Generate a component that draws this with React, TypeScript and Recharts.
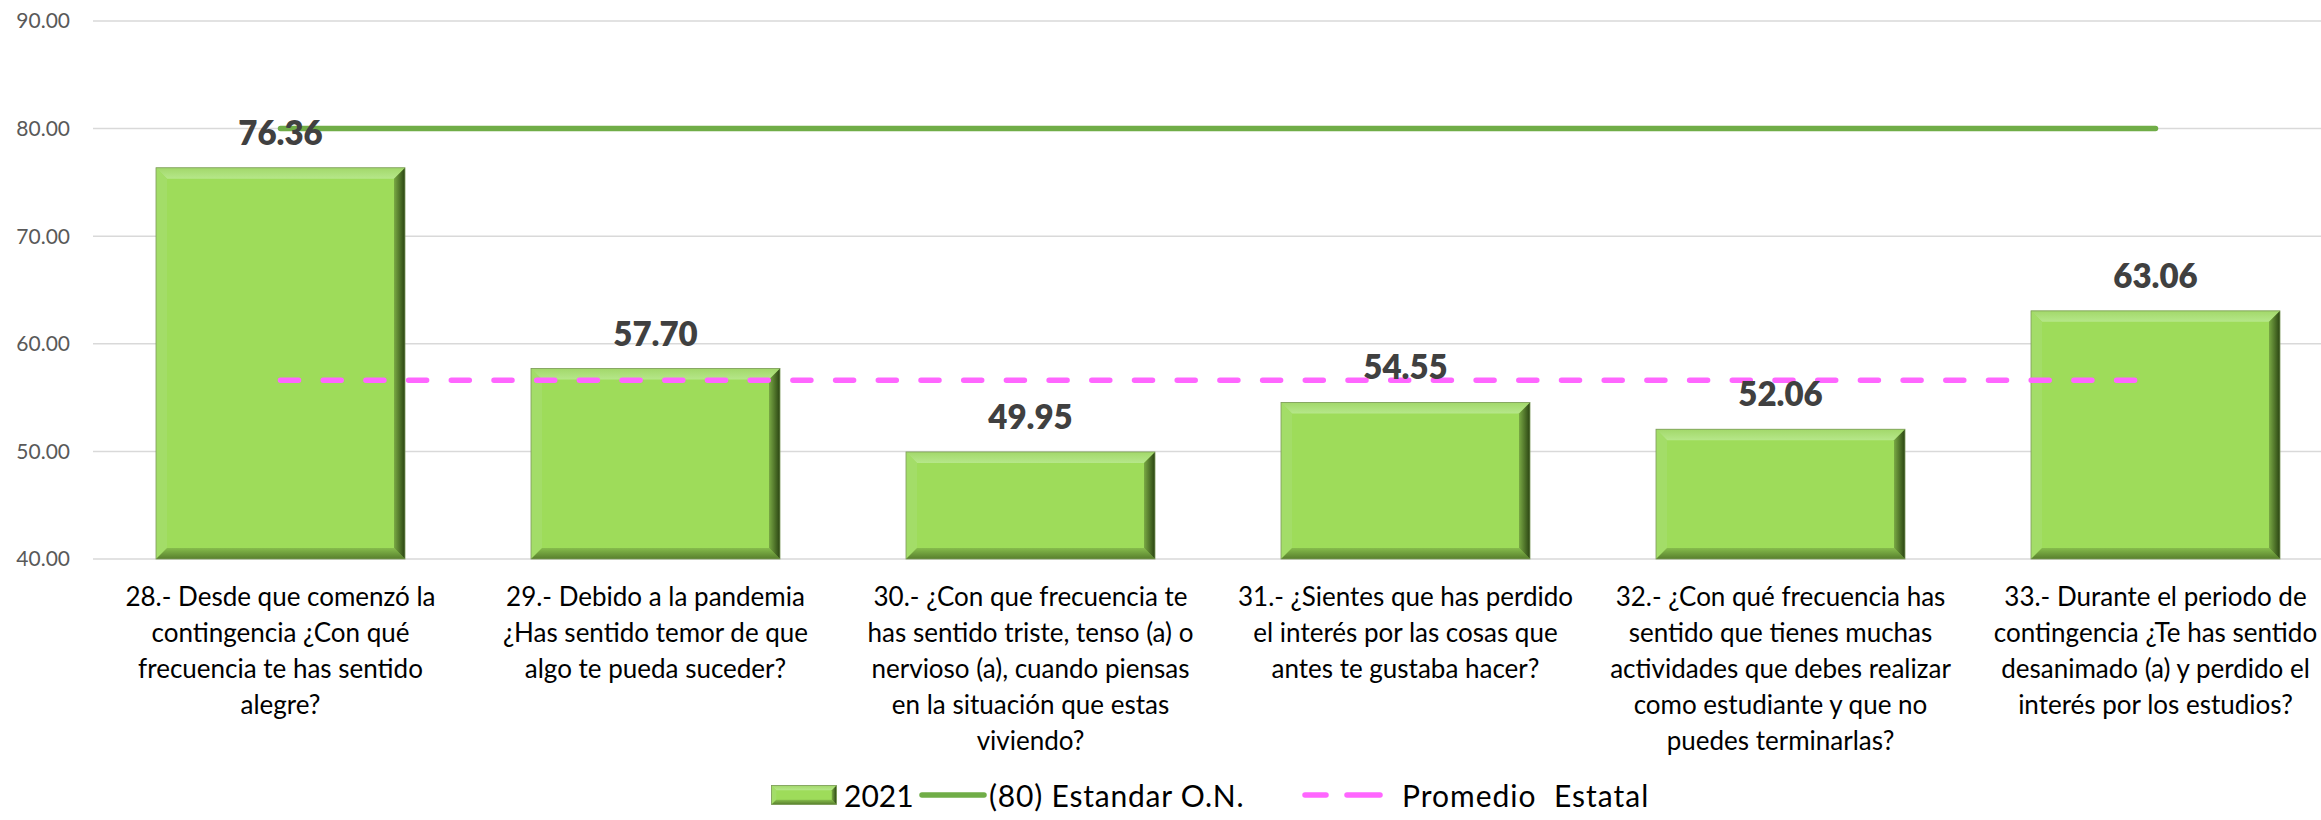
import React from 'react';
import { ComposedChart, Bar, Line, XAxis, YAxis, CartesianGrid, Legend, LabelList } from 'recharts';

const categories: string[] = [
  '28.- Desde que comenzó la\ncontingencia ¿Con qué\nfrecuencia te has sentido\nalegre?',
  '29.- Debido a la pandemia\n¿Has sentido temor de que\nalgo te pueda suceder?',
  '30.- ¿Con que frecuencia te\nhas sentido triste, tenso (a) o\nnervioso (a), cuando piensas\nen la situación que estas\nviviendo?',
  '31.- ¿Sientes que has perdido\nel interés por las cosas que\nantes te gustaba hacer?',
  '32.- ¿Con qué frecuencia has\nsentido que tienes muchas\nactividades que debes realizar\ncomo estudiante y que no\npuedes terminarlas?',
  '33.- Durante el periodo de\ncontingencia ¿Te has sentido\ndesanimado (a) y perdido el\ninterés por los estudios?',
];
const values2021: number[] = [76.36, 57.7, 49.95, 54.55, 52.06, 63.06];
const estandarON: number[] = [80, 80, 80, 80, 80, 80];
const promedioEstatal: number[] = [56.62, 56.62, 56.62, 56.62, 56.62, 56.62];
const yTicks: number[] = [40, 50, 60, 70, 80, 90];
const seriesNames: string[] = ['2021', '(80) Estandar O.N.', 'Promedio  Estatal'];

const data = categories.map((cat, i) => ({
  cat,
  v2021: values2021[i],
  estandar: estandarON[i],
  promedio: promedioEstatal[i],
}));

const FONT = 'Lato, "Open Sans", sans-serif';

const BevelShape = (props: any) => {
  const { x, y, width: w, height: h, index } = props;
  if (!w || !h || h <= 0) return null;
  const b = Math.min(11, w / 4, h / 4);
  const id = `bev${index ?? 'l'}${Math.round(x)}`;
  return (
    <g>
      <defs>
        <linearGradient id={`${id}r`} x1="0" y1="0" x2="1" y2="0">
          <stop offset="0" stopColor="#79A944" />
          <stop offset="1" stopColor="#2A4412" />
        </linearGradient>
        <linearGradient id={`${id}t`} x1="0" y1="0" x2="0" y2="1">
          <stop offset="0" stopColor="#A2D86A" />
          <stop offset="1" stopColor="#B6E78A" />
        </linearGradient>
        <linearGradient id={`${id}b`} x1="0" y1="0" x2="0" y2="1">
          <stop offset="0" stopColor="#86BC4C" />
          <stop offset="1" stopColor="#587F2D" />
        </linearGradient>
      </defs>
      <rect x={x} y={y} width={w} height={h} fill="#9EDC5A" />
      <polygon points={`${x},${y} ${x + w},${y} ${x + w - b},${y + b} ${x + b},${y + b}`} fill={`url(#${id}t)`} />
      <polygon points={`${x},${y} ${x + b},${y + b} ${x + b},${y + h - b} ${x},${y + h}`} fill="#A3DD68" />
      <polygon points={`${x},${y + h} ${x + w},${y + h} ${x + w - b},${y + h - b} ${x + b},${y + h - b}`} fill={`url(#${id}b)`} />
      <polygon points={`${x + w},${y} ${x + w},${y + h} ${x + w - b},${y + h - b} ${x + w - b},${y + b}`} fill={`url(#${id}r)`} />
      <rect x={x} y={y} width={w} height={h} fill="none" stroke="#7C9A5A" strokeWidth={0.8} />
    </g>
  );
};

const CategoryTick = (props: any) => {
  const { x, y, payload } = props;
  const lines = String(payload.value).split('\n');
  return (
    <text x={x} y={y + 47} textAnchor="middle" fill="#000000" fontFamily={FONT} fontSize={26}>
      {lines.map((ln, i) => (
        <tspan key={i} x={x} dy={i === 0 ? 0 : 36} style={{ whiteSpace: 'pre' }}>
          {ln}
        </tspan>
      ))}
    </text>
  );
};

const ValueLabel = (props: any) => {
  const x = props.x ?? props.viewBox?.x;
  const y = props.y ?? props.viewBox?.y;
  const v = Number(props.value);
  return (
    <text x={x} y={y - 23} textAnchor="middle" fill="#404040" fontFamily={FONT} fontWeight={800} fontSize={33}>
      {v.toFixed(2)}
    </text>
  );
};

const LegendContent = () => {
  const textStyle: React.CSSProperties = { fontFamily: FONT, fontSize: 30, color: '#000', whiteSpace: 'pre', lineHeight: '30px' };
  return (
    <div style={{ position: 'relative', width: '100%', height: 30 }}>
      <div style={{ position: 'absolute', left: 771, top: 0, height: 30, display: 'flex', alignItems: 'center' }}>
        <svg width={66} height={20} style={{ display: 'block' }}>
          <BevelShape x={0.5} y={0.5} width={65} height={19} index={'leg'} />
        </svg>
        <span style={{ ...textStyle, marginLeft: 7 }}>{seriesNames[0]}</span>
      </div>
      <div style={{ position: 'absolute', left: 919, top: 0, height: 30, display: 'flex', alignItems: 'center' }}>
        <svg width={68} height={20} style={{ display: 'block' }}>
          <line x1={3} y1={10} x2={65} y2={10} stroke="#70AD47" strokeWidth={5.5} strokeLinecap="round" />
        </svg>
        <span style={{ ...textStyle, marginLeft: 2, letterSpacing: 0.8 }}>{seriesNames[1]}</span>
      </div>
      <div style={{ position: 'absolute', left: 1302, top: 0, height: 30, display: 'flex', alignItems: 'center' }}>
        <svg width={82} height={20} style={{ display: 'block' }}>
          <line x1={3} y1={10} x2={24} y2={10} stroke="#FF66FF" strokeWidth={5.5} strokeLinecap="round" />
          <line x1={45} y1={10} x2={78} y2={10} stroke="#FF66FF" strokeWidth={5.5} strokeLinecap="round" />
        </svg>
        <span style={{ ...textStyle, marginLeft: 18, letterSpacing: 1 }}>{seriesNames[2]}</span>
      </div>
    </div>
  );
};

export default function App() {
  return (
    <div style={{ position: 'fixed', left: 0, top: 0, width: 2321, height: 820, overflow: 'hidden', background: '#fff' }}>
      <ComposedChart
        width={2440}
        height={820}
        data={data}
        margin={{ top: 21, right: 97, bottom: 0, left: 0 }}
        barSize={249}
      >
        <CartesianGrid vertical={false} stroke="#D9D9D9" strokeWidth={1.5} />
        <XAxis
          dataKey="cat"
          height={261}
          axisLine={false}
          tickLine={false}
          tickSize={0}
          tickMargin={0}
          interval={0}
          tick={<CategoryTick />}
        />
        <YAxis
          domain={[40, 90]}
          ticks={yTicks}
          width={93}
          axisLine={false}
          tickLine={false}
          tickSize={0}
          tickMargin={23}
          tickFormatter={(v: number) => v.toFixed(2)}
          tick={{ fill: '#595959', fontSize: 21, fontFamily: FONT }}
        />
        <Legend
          layout="horizontal"
          verticalAlign="middle"
          align="center"
          wrapperStyle={{ left: 0, top: 780, width: 2440, height: 30 }}
          content={<LegendContent />}
        />
        <Bar dataKey="v2021" name={seriesNames[0]} shape={<BevelShape />} isAnimationActive={false} />
        <Line
          dataKey="estandar"
          name={seriesNames[1]}
          stroke="#70AD47"
          strokeWidth={5.5}
          strokeLinecap="round"
          dot={false}
          activeDot={false}
          isAnimationActive={false}
        />
        <Line
          dataKey="promedio"
          name={seriesNames[2]}
          stroke="#FF66FF"
          strokeWidth={5.5}
          strokeDasharray="18 24.7"
          strokeLinecap="round"
          dot={false}
          activeDot={false}
          isAnimationActive={false}
        />
        <Line
          dataKey="v2021"
          stroke="none"
          dot={false}
          activeDot={false}
          legendType="none"
          isAnimationActive={false}
        >
          <LabelList dataKey="v2021" content={<ValueLabel />} />
        </Line>
      </ComposedChart>
    </div>
  );
}
